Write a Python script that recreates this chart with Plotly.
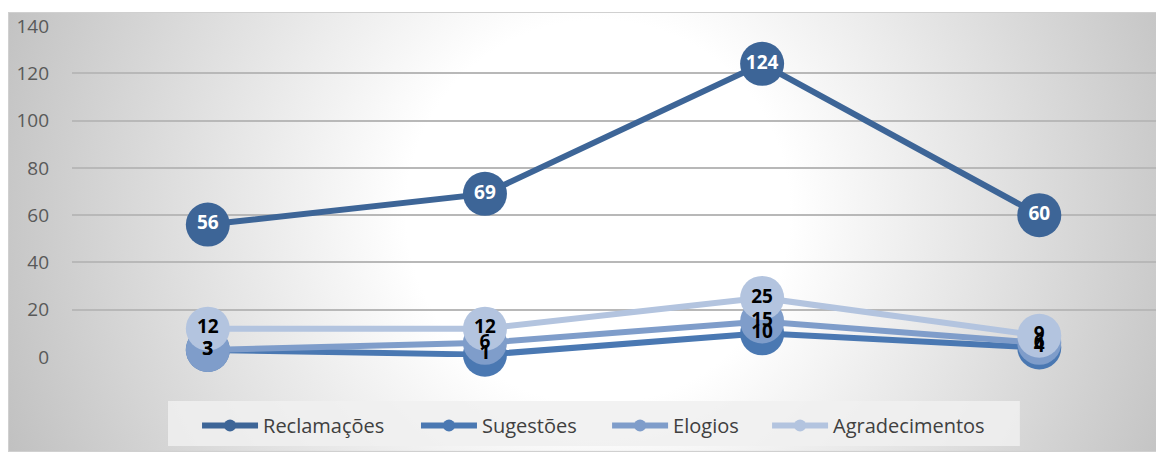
import base64

import plotly.graph_objects as go

categories = ['1', '2', '3', '4']
series_names = ['Reclamações', 'Sugestões', 'Elogios', 'Agradecimentos']
reclamacoes = [56, 69, 124, 60]
sugestoes = [3, 1, 10, 4]
elogios = [3, 6, 15, 6]
agradecimentos = [12, 12, 25, 9]
y_ticks = [0, 20, 40, 60, 80, 100, 120, 140]

colors = ['#3d6597', '#4a78b2', '#7f9dca', '#b3c4df']
label_colors = ['white', 'black', 'black', 'black']

# fundo com gradiente radial, como no grafico original
svg = (
    '<svg xmlns="http://www.w3.org/2000/svg" viewBox="0 0 1156 440" width="1156" height="440" '
    'preserveAspectRatio="none"><defs><radialGradient id="g" gradientUnits="userSpaceOnUse" '
    'cx="590" cy="200" r="640"><stop offset="0" stop-color="#ffffff"/>'
    '<stop offset="0.3" stop-color="#ffffff"/><stop offset="1" stop-color="#c0c0c0"/>'
    '</radialGradient></defs><rect x="0" y="0" width="1156" height="440" fill="url(#g)" '
    'stroke="#d0d0d0" stroke-width="2"/></svg>'
)
bg_src = 'data:image/svg+xml;base64,' + base64.b64encode(svg.encode('utf-8')).decode('ascii')

fig = go.Figure()
all_values = [reclamacoes, sugestoes, elogios, agradecimentos]

for name, values, color in zip(series_names, all_values, colors):
    fig.add_trace(go.Scatter(
        x=categories, y=values, mode='lines+markers', name=name,
        line=dict(color=color, width=6),
        marker=dict(color=color, size=44),
        showlegend=False, hoverinfo='skip', cliponaxis=False,
    ))

# rotulos por cima de todos os marcadores
for values, lcolor in zip(all_values, label_colors):
    fig.add_trace(go.Scatter(
        x=categories, y=values, mode='text', text=[str(v) for v in values],
        textposition='middle center',
        textfont=dict(family='Open Sans', size=19, color=lcolor, weight='bold'),
        showlegend=False, hoverinfo='skip', cliponaxis=False,
    ))

# uma legenda por serie, para controlar o espacamento
legend_ids = ['legend', 'legend2', 'legend3', 'legend4']
legend_x = [0.1145, 0.315, 0.490, 0.6365]
for name, color, lid in zip(series_names, colors, legend_ids):
    fig.add_trace(go.Scatter(
        x=[None], y=[None], mode='lines+markers', name=name,
        line=dict(color=color, width=6),
        marker=dict(color=color, size=12),
        legend=lid,
    ))

legend_style = dict(
    orientation='h', y=-0.148, xanchor='left', yanchor='top',
    bgcolor='rgba(0,0,0,0)', itemwidth=56,
    font=dict(family='Open Sans', size=20, color='#404040'),
)

# a pagina tem margem de 8px, por isso a figura e 8px menor
fig.update_layout(
    width=1156, height=447,
    margin=dict(l=64, r=0, t=18, b=98),
    paper_bgcolor='white',
    plot_bgcolor='rgba(0,0,0,0)',
    font=dict(family='Open Sans', color='#595959'),
    images=[dict(
        source=bg_src, xref='paper', yref='paper',
        x=-0.0586, y=1.0423, sizex=1.0586, sizey=1.329,
        xanchor='left', yanchor='top', sizing='stretch', layer='below',
    )],
    shapes=[dict(
        type='rect', xref='paper', yref='paper',
        x0=0.0879, x1=0.868, y0=-0.269, y1=-0.133,
        fillcolor='rgba(240,240,240,0.85)', line=dict(width=0), layer='above',
    )],
    **{lid: dict(legend_style, x=lx) for lid, lx in zip(legend_ids, legend_x)},
)
fig.update_xaxes(
    range=[-0.49, 3.45], showticklabels=False, showgrid=False,
    zeroline=False, showline=False,
)
fig.update_yaxes(
    range=[0, 140], tickvals=y_ticks, showgrid=True, gridcolor='#b8b8b8', gridwidth=1.5,
    zeroline=False, showline=False, ticklabelstandoff=22,
    tickfont=dict(family='Open Sans', size=19, color='#595959'),
)

fig.write_html('out.html')
